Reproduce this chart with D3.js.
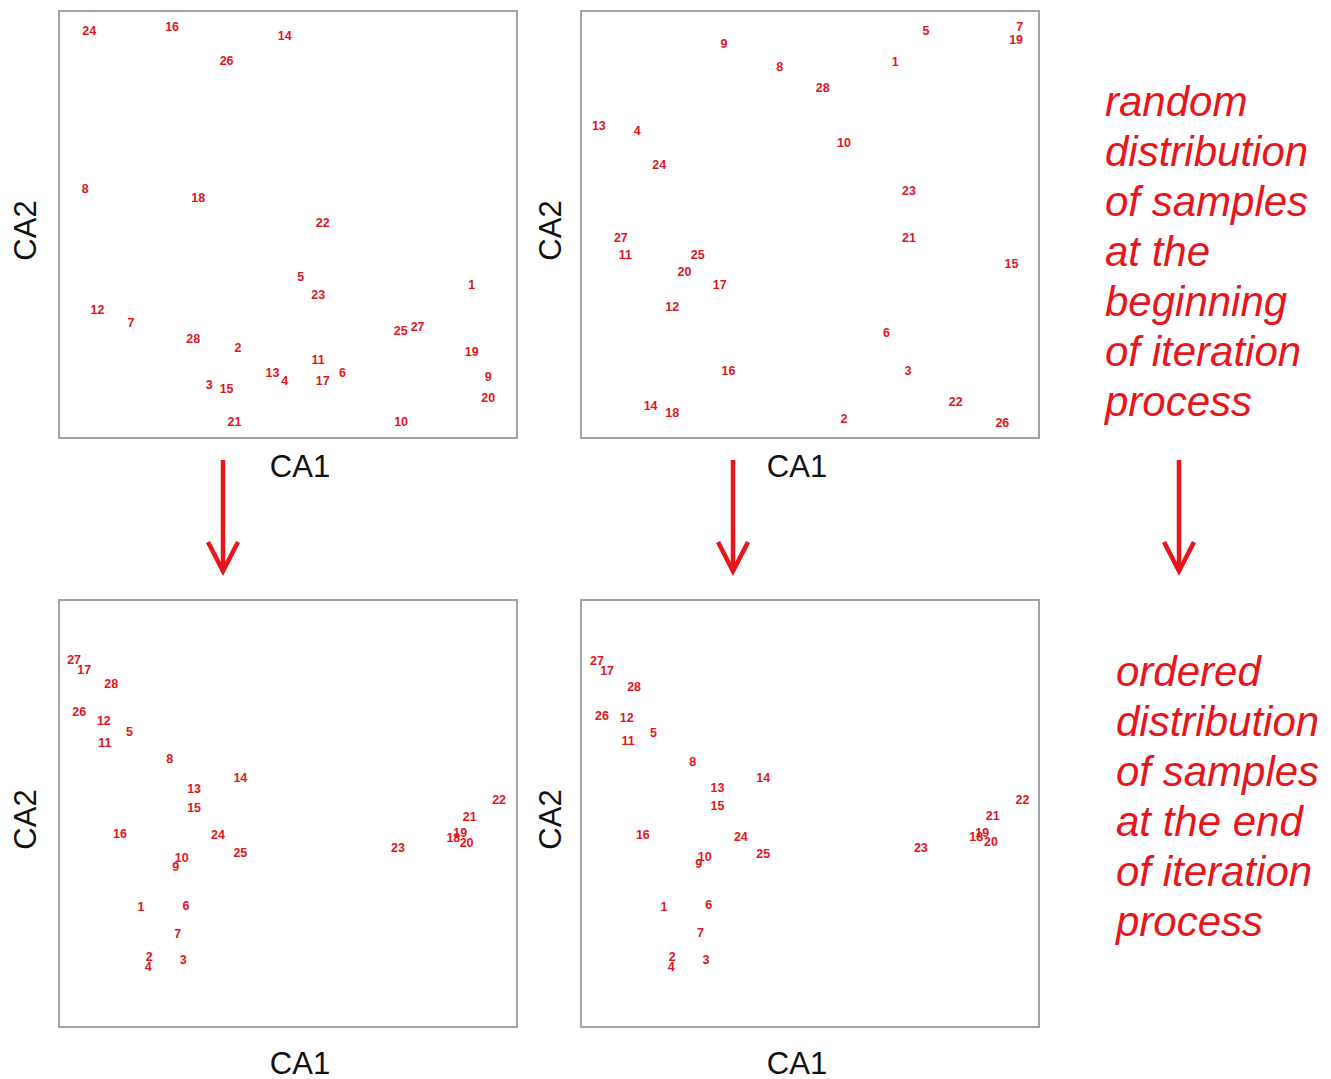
<!DOCTYPE html>
<html><head><meta charset="utf-8">
<script src="https://cdn.jsdelivr.net/npm/d3@7"></script>
<style>body{margin:0;background:#fff}svg{display:block}</style>
</head><body>
<script>
// sample identifiers
const sampleIds = d3.range(1, 29);
// CA scores (scaled 0-100 within each plot) for samples 1..28
const startAX = [90.1,39.1,32.8,49.3,52.8,61.9,15.7,5.7,93.7,74.7,56.6,8.4,46.6,49.3,36.6,24.7,57.6,30.4,90.1,93.7,38.3,57.6,56.6,6.6,74.6,36.6,78.3,29.3];
const startAY = [35.8,21.1,12.3,13.3,37.6,15.2,27.0,58.2,14.4,3.7,18.2,29.9,15.2,94.1,11.4,96.2,13.3,56.3,20.1,9.4,3.7,50.4,33.6,95.2,25.1,88.3,25.9,23.1];
const startBX = [68.6,57.4,71.4,12.3,75.3,66.7,95.8,43.4,31.2,57.4,9.7,19.9,3.9,15.2,94.0,32.2,30.3,19.9,95.0,22.6,71.6,81.8,71.6,17.1,25.5,92.0,8.7,52.8];
const startBY = [88.0,4.5,15.7,72.0,95.2,24.7,96.3,87.0,92.2,69.0,42.8,30.6,73.1,7.6,40.7,15.7,35.8,5.8,93.2,38.8,46.9,8.5,57.9,63.9,42.8,3.6,46.9,82.0];
const endAX = [17.9,19.7,27.1,19.5,15.4,27.7,25.9,24.2,25.5,26.8,10.0,9.8,29.5,39.6,29.5,13.3,5.5,86.1,87.6,89.0,89.7,96.1,74.0,34.7,39.6,4.4,3.3,11.4];
const endAY = [28.2,16.5,15.6,14.1,69.2,28.3,21.8,62.8,37.5,39.6,66.4,71.7,55.8,58.4,51.4,45.3,83.5,44.3,45.4,43.2,49.1,53.1,41.9,44.9,40.8,73.8,85.9,80.3];
const endBX = [18.1,19.9,27.3,19.7,15.8,27.9,26.1,24.4,25.7,27.0,10.3,10.0,29.8,39.8,29.8,13.5,5.7,86.3,87.6,89.5,89.9,96.4,74.2,34.9,39.8,4.6,3.5,11.6];
const endBY = [28.0,16.5,15.7,14.1,68.9,28.5,22.1,62.1,38.1,39.9,67.0,72.3,55.9,58.2,51.8,45.0,83.4,44.4,45.5,43.4,49.3,53.1,41.9,44.6,40.5,72.9,85.8,79.6];
const axisTitles = ["CA1", "CA2"];
const noteTop = ["random","distribution","of samples","at the","beginning","of iteration","process"];
const noteBottom = ["ordered","distribution","of samples","at the end","of iteration","process"];

const W = 1331, H = 1079;
const svg = d3.select("body").append("svg").attr("width", W).attr("height", H);

const panels = [
  {xs: startAX, ys: startAY, left: 59, top: 11, xl: 300, yl: 25},
  {xs: startBX, ys: startBY, left: 581, top: 11, xl: 797, yl: 550},
  {xs: endAX, ys: endAY, left: 59, top: 600, xl: 300, yl: 25},
  {xs: endBX, ys: endBY, left: 581, top: 600, xl: 797, yl: 550}
];
const PW = 458, PH = 427;

panels.forEach((p, i) => {
  const x = d3.scaleLinear().domain([0, 100]).range([p.left, p.left + PW]);
  const y = d3.scaleLinear().domain([0, 100]).range([p.top + PH, p.top]);
  const g = svg.append("g");
  g.append("rect").attr("x", x(0)).attr("y", y(100)).attr("width", x(100) - x(0)).attr("height", y(0) - y(100))
    .attr("fill", "none").attr("stroke", "#a3a3a3").attr("stroke-width", 2);
  g.selectAll("text.pt").data(sampleIds).join("text").attr("class", "pt")
    .attr("x", (d, j) => x(p.xs[j])).attr("y", (d, j) => y(p.ys[j]))
    .attr("text-anchor", "middle").attr("dominant-baseline", "central")
    .attr("font-family", "Liberation Sans, Arial, sans-serif").attr("font-weight", "bold")
    .attr("font-size", 12.5).attr("fill", "#e3141c").text(d => d);
  const xlY = i < 2 ? p.top + PH + 28 : p.top + PH + 36;
  g.append("text").attr("x", p.xl).attr("y", xlY).attr("text-anchor", "middle").attr("dominant-baseline", "central")
    .attr("font-family", "Liberation Sans, Arial, sans-serif").attr("font-size", 31).attr("fill", "#111").text(axisTitles[0]);
  g.append("text").attr("transform", `translate(${p.yl},${p.top + PH / 2 + 6}) rotate(-90)`)
    .attr("text-anchor", "middle").attr("dominant-baseline", "central")
    .attr("font-family", "Liberation Sans, Arial, sans-serif").attr("font-size", 31).attr("fill", "#111").text(axisTitles[1]);
});

// arrows
[223, 733, 1179].forEach(ax => {
  const g = svg.append("g").attr("stroke", "#e8151b").attr("stroke-width", 4.5).attr("fill", "none");
  g.append("line").attr("x1", ax).attr("x2", ax).attr("y1", 460).attr("y2", 570);
  g.append("path").attr("d", `M${ax - 15},${542} L${ax},${571} L${ax + 15},${542}`).attr("stroke-linejoin", "miter");
});

function note(lines, x0, y0) {
  svg.append("g").selectAll("text").data(lines).join("text")
    .attr("x", x0).attr("y", (d, i) => y0 + i * 50)
    .attr("font-family", "Liberation Sans, Arial, sans-serif").attr("font-style", "italic")
    .attr("font-size", 42).attr("fill", "#e8151b").text(d => d);
}
note(noteTop, 1105, 116);
note(noteBottom, 1116, 686);
</script>
</body></html>
